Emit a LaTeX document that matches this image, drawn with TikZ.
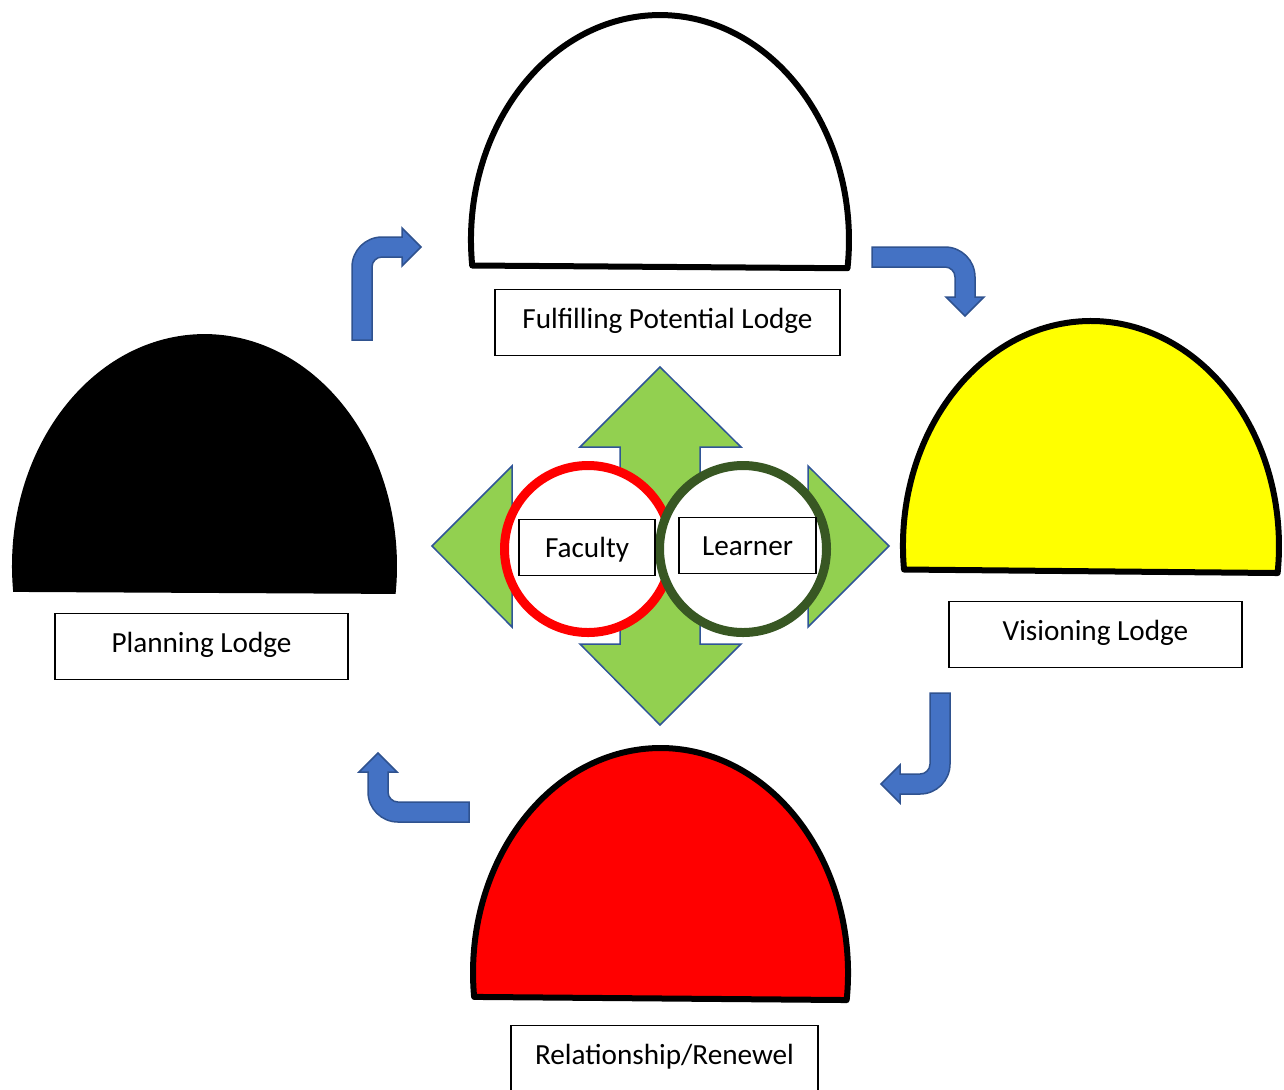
\documentclass[tikz,border=0pt]{standalone}
\usepackage{fontspec}
\setmainfont{Carlito}
\usepackage{xcolor}
\definecolor{bendblue}{HTML}{4472C4}
\definecolor{bendedge}{HTML}{2F528F}
\definecolor{quadgreen}{HTML}{92D050}
\definecolor{quadedge}{HTML}{2F5597}
\definecolor{facultyred}{HTML}{FF0000}
\definecolor{learnergreen}{HTML}{385723}
\definecolor{lodgeyellow}{HTML}{FFFF00}

\begin{document}
\begin{tikzpicture}[x=0.5pt, y=-0.5pt,
  lodge/.style={draw=black, line width=3pt, line join=round},
  bentarrow/.style={fill=bendblue, draw=bendedge, line width=0.75pt},
  ring/.style={line width=4.5pt, fill=white},
  lbl/.style={draw=black, fill=white, line width=0.6pt, anchor=north, inner ysep=0pt,
    text height=19.5pt, text depth=13.5pt, font=\fontsize{14.6}{17}\selectfont}]
\useasboundingbox (0,0) rectangle (1284,1089);

\draw[lodge, fill=white] (472.2,265.5) arc[start angle=173.5, end angle=367.2, x radius=189, y radius=225] -- cycle;
\fill[black] (13.2,591.9) arc[start angle=173.6, end angle=366.9, x radius=192.5, y radius=232] -- cycle;
\draw[lodge, fill=lodgeyellow] (904,569.5) arc[start angle=174, end angle=366.9, x radius=188, y radius=225] -- cycle;
\draw[lodge, fill=facultyred] (474.1,996.9) arc[start angle=173.9, end angle=366.9, x radius=187.5, y radius=225] -- cycle;

\draw[bentarrow] (352,340) -- (352,267) arc[start angle=180, end angle=270, radius=30] -- (402,237) -- (402,228)
  -- (421,247) -- (402,266) -- (402,257) -- (382,257) arc[start angle=270, end angle=180, radius=10] -- (372,340) -- cycle;
\draw[bentarrow] (872,247) -- (945,247) arc[start angle=270, end angle=360, radius=30] -- (975,297) -- (984,297)
  -- (965,316) -- (946,297) -- (955,297) -- (955,277) arc[start angle=0, end angle=-90, radius=10] -- (872,267) -- cycle;
\draw[bentarrow] (950,693) -- (950,764) arc[start angle=0, end angle=90, radius=30] -- (900,794) -- (900,803)
  -- (881,784) -- (900,765) -- (900,774) -- (920,774) arc[start angle=90, end angle=0, radius=10] -- (930,693) -- cycle;
\draw[bentarrow] (469,822) -- (398,822) arc[start angle=90, end angle=180, radius=30] -- (368,772) -- (359,772)
  -- (378,753) -- (397,772) -- (388,772) -- (388,792) arc[start angle=180, end angle=90, radius=10] -- (469,802) -- cycle;

\draw[fill=quadgreen, draw=quadedge, line width=0.75pt] (660,367) -- (741,447) -- (700,447) -- (700,506) -- (808,506)
  -- (808,466) -- (889,546) -- (808,627) -- (808,586) -- (700,586) -- (700,644) -- (741,644) -- (660,725)
  -- (580,644) -- (620,644) -- (620,586) -- (512,586) -- (512,627) -- (432,546) -- (512,466) -- (512,506)
  -- (620,506) -- (620,447) -- (580,447) -- cycle;

\draw[ring, draw=facultyred] (588,549) circle[radius=83.5];
\draw[ring, draw=learnergreen] (743,549) circle[radius=83.5];

\node[lbl, minimum width=68pt, text height=19pt, text depth=9pt] (faculty) at (587,519) {Faculty};
\node[lbl, minimum width=68.5pt, text height=19pt, text depth=9pt] (learner) at (747.5,517) {Learner};

\node[lbl, minimum width=172.5pt] (fulfil) at (667.5,289) {Fulfilling Potential Lodge};
\node[lbl, minimum width=146.5pt] (planning) at (201.5,613) {Planning Lodge};
\node[lbl, minimum width=146.5pt] (visioning) at (1095.5,601) {Visioning Lodge};
\node[lbl, minimum width=153.5pt, text depth=22pt] (renewal) at (664.5,1025) {Relationship/Renewel};
\end{tikzpicture}
\end{document}
